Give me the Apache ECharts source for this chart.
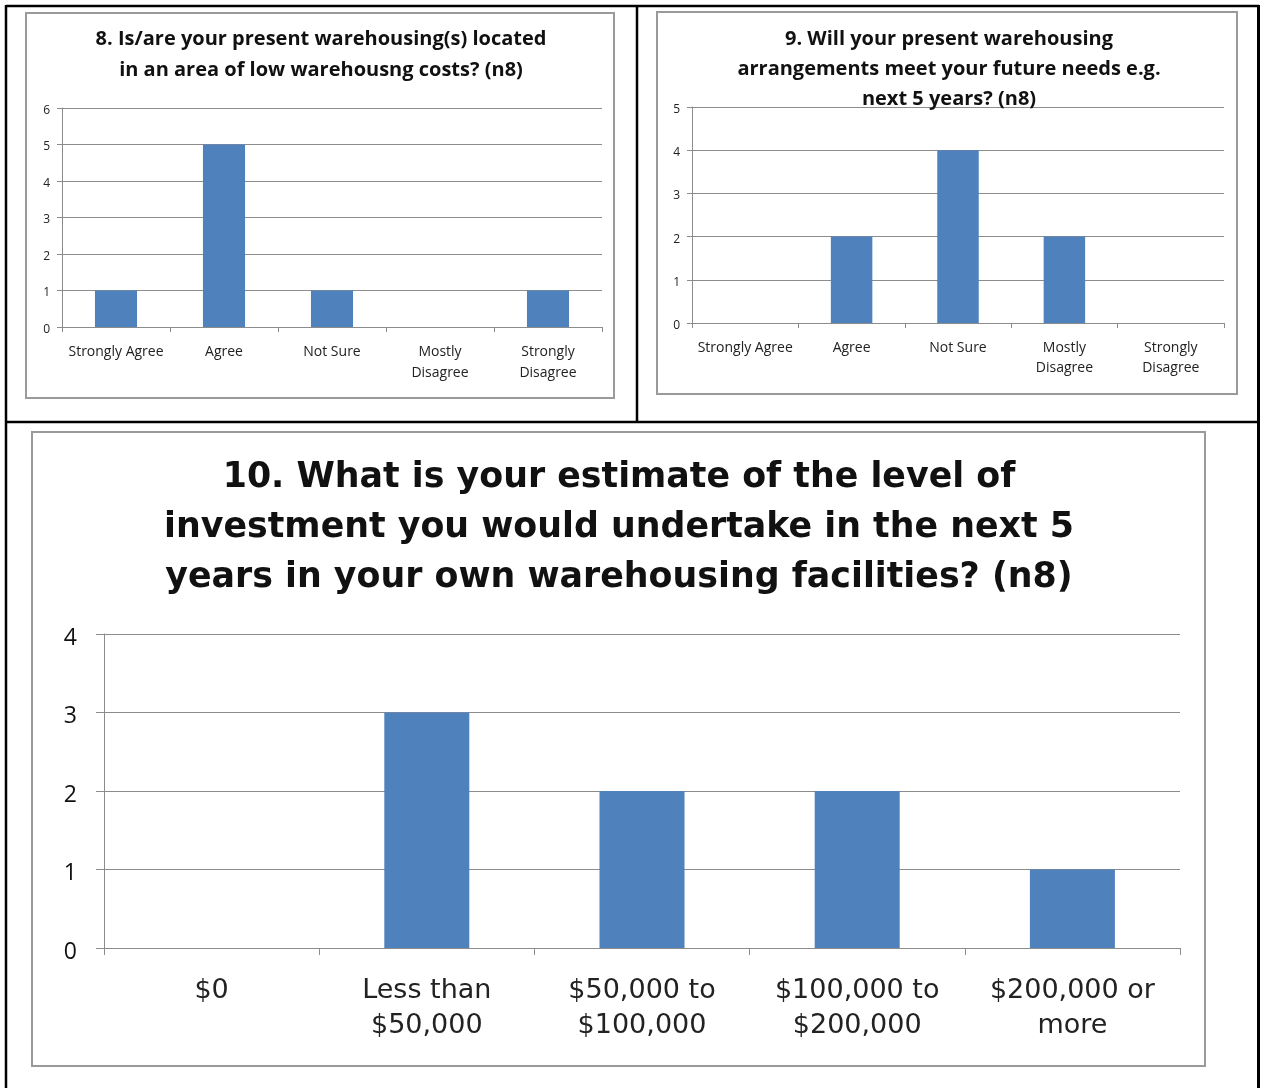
<!DOCTYPE html>
<html>
<head>
<meta charset="utf-8">
<script src="https://cdn.jsdelivr.net/npm/echarts@6/dist/echarts.min.js"></script>
<style>
  html, body { margin: 0; padding: 0; background: #fff; }
  #main { width: 1261px; height: 1088px; }
</style>
</head>
<body>
<div id="main"></div>
<script>
// Survey answers (counts of respondents, n = 8)
const agreeCategories = ['Strongly Agree', 'Agree', 'Not Sure', 'Mostly\nDisagree', 'Strongly\nDisagree'];
const q8Values = [1, 5, 1, 0, 1];
const q9Values = [0, 2, 4, 2, 0];
const investCategories = ['$0', 'Less than\n$50,000', '$50,000 to\n$100,000', '$100,000 to\n$200,000', '$200,000 or\nmore'];
const q10Values = [0, 3, 2, 2, 1];

const q8Title = '8. Is/are your present warehousing(s) located\nin an area of low warehousng costs? (n8)';
const q9Title = '9. Will your present warehousing\narrangements meet your future needs e.g.\nnext 5 years? (n8)';
const q10Title = '10. What is your estimate of the level of\ninvestment you would undertake in the next 5\nyears in your own warehousing facilities? (n8)';

const BAR = '#4F81BD';
const GRID_LINE = '#8c8c8c';
const SMALL_FONT = '"Open Sans", Lato, sans-serif';
const BIG_FONT = '"DejaVu Sans", Verdana, sans-serif';

function smallAxes(idx, maxV, marginX, lineH) {
  return {
    x: {
      type: 'category', gridIndex: idx, data: agreeCategories,
      axisLine: { lineStyle: { color: GRID_LINE, width: 1 } },
      axisTick: { show: true, length: 5, lineStyle: { color: GRID_LINE } },
      axisLabel: { color: '#222', fontFamily: SMALL_FONT, fontSize: 14, lineHeight: lineH, margin: marginX, interval: 0 }
    },
    y: {
      type: 'value', gridIndex: idx, min: 0, max: maxV, interval: 1,
      axisLine: { show: true, lineStyle: { color: GRID_LINE, width: 1 } },
      axisTick: { show: true, length: 5, lineStyle: { color: GRID_LINE } },
      axisLabel: { color: '#222', fontFamily: SMALL_FONT, fontSize: 12, margin: 12, verticalAlign: 'top', lineHeight: 5 },
      splitLine: { lineStyle: { color: GRID_LINE, width: 1 } }
    }
  };
}

const a8 = smallAxes(0, 6, 15, 21);
const a9 = smallAxes(1, 5, 15, 20);

const chart = echarts.init(document.getElementById('main'), null, { renderer: 'canvas' });

chart.setOption({
  animation: false,
  backgroundColor: '#fff',
  title: [
    {
      text: q8Title, left: 316, top: 19, textAlign: 'center',
      textStyle: { fontFamily: SMALL_FONT, fontWeight: 'bold', fontSize: 20, lineHeight: 31, color: '#111' }
    },
    {
      text: q9Title, left: 944, top: 19, textAlign: 'center',
      textStyle: { fontFamily: SMALL_FONT, fontWeight: 'bold', fontSize: 20, lineHeight: 30, color: '#111' }
    },
    {
      text: q10Title, left: 614, top: 448, textAlign: 'center',
      textStyle: { fontFamily: BIG_FONT, fontWeight: 'bold', fontSize: 34.8, lineHeight: 50, color: '#111' }
    }
  ],
  grid: [
    { left: 62, top: 108, width: 540, height: 219 },
    { left: 692, top: 107, width: 532, height: 216 },
    { left: 104, top: 634, width: 1076, height: 314 }
  ],
  xAxis: [
    a8.x,
    a9.x,
    {
      type: 'category', gridIndex: 2, data: investCategories,
      axisLine: { lineStyle: { color: GRID_LINE, width: 1 } },
      axisTick: { show: true, length: 7, lineStyle: { color: GRID_LINE } },
      axisLabel: { color: '#222', fontFamily: BIG_FONT, fontSize: 27, lineHeight: 35, margin: 25, interval: 0 }
    }
  ],
  yAxis: [
    a8.y,
    a9.y,
    {
      type: 'value', gridIndex: 2, min: 0, max: 4, interval: 1,
      axisLine: { show: true, lineStyle: { color: GRID_LINE, width: 1 } },
      axisTick: { show: true, length: 8, lineStyle: { color: GRID_LINE } },
      axisLabel: { color: '#111', fontFamily: '"Open Sans", sans-serif', fontSize: 23, margin: 27, verticalAlign: 'top', lineHeight: 8 },
      splitLine: { lineStyle: { color: GRID_LINE, width: 1 } }
    }
  ],
  series: [
    { type: 'bar', xAxisIndex: 0, yAxisIndex: 0, data: q8Values, barWidth: '39%', itemStyle: { color: BAR } },
    { type: 'bar', xAxisIndex: 1, yAxisIndex: 1, data: q9Values, barWidth: '39%', itemStyle: { color: BAR } },
    { type: 'bar', xAxisIndex: 2, yAxisIndex: 2, data: q10Values, barWidth: '39.5%', itemStyle: { color: BAR } }
  ],
  graphic: [
    // chart frames
    { type: 'rect', z: -1, shape: { x: 26, y: 13, width: 588, height: 385 }, style: { fill: null, stroke: '#9a9a9a', lineWidth: 2 } },
    { type: 'rect', z: -1, shape: { x: 657, y: 12, width: 580, height: 382 }, style: { fill: null, stroke: '#9a9a9a', lineWidth: 2 } },
    { type: 'rect', z: -1, shape: { x: 32, y: 432, width: 1173, height: 634 }, style: { fill: null, stroke: '#9a9a9a', lineWidth: 2 } },
    // table rules around the three charts
    { type: 'line', shape: { x1: 6, y1: 6, x2: 1259, y2: 6 }, style: { stroke: '#000', lineWidth: 2.5 } },
    { type: 'line', shape: { x1: 6, y1: 5, x2: 6, y2: 1088 }, style: { stroke: '#000', lineWidth: 2.5 } },
    { type: 'line', shape: { x1: 1258.5, y1: 5, x2: 1258.5, y2: 1088 }, style: { stroke: '#000', lineWidth: 3 } },
    { type: 'line', shape: { x1: 637, y1: 6, x2: 637, y2: 422 }, style: { stroke: '#000', lineWidth: 2.5 } },
    { type: 'line', shape: { x1: 6, y1: 422, x2: 1259, y2: 422 }, style: { stroke: '#000', lineWidth: 2.5 } }
  ]
});
</script>
</body>
</html>
